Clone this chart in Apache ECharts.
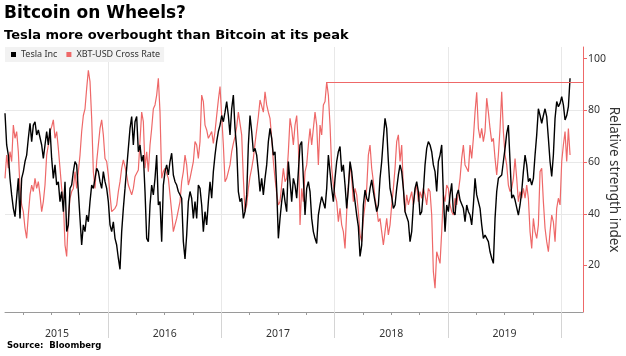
<!DOCTYPE html>
<html><head><meta charset="utf-8">
<script src="https://cdn.jsdelivr.net/npm/echarts@6/dist/echarts.min.js"></script>
<style>html,body{margin:0;padding:0;background:#fff}#c{width:626px;height:356px}</style>
</head><body><div id="c"></div>
<script>
// Sampling of the two RSI series (decimal years, ~5.4 days apart)
const startYear = 2015.091;
const stepYears = 0.01471;

const teslaRSI = [
78.9,66.6,62.7,53.7,47.3,42.1,38.9,38.9,53.7,38.2,53.7,56.3,60.2,62.7,69.2,75.0,67.9,74.3,75.6,70.5,72.4,73.0,66.6,61.4,66.6,71.8,66.6,73.0,61.4,53.7,58.9,51.1,52.4,44.7,48.6,40.8,52.4,33.1,35.7,49.8,51.1,56.3,60.2,58.9,48.6,38.2,27.9,35.7,33.1,39.5,36.9,44.7,51.1,49.8,53.7,57.6,56.3,52.4,49.8,56.3,52.4,49.8,44.7,35.7,33.1,36.9,30.5,27.9,22.8,18.5,33.1,42.1,49.8,57.6,65.3,73.0,77.6,66.6,75.6,77.6,64.0,66.6,60.2,62.7,
48.6,30.5,29.2,43.4,51.1,47.3,53.7,62.7,43.4,44.7,29.2,51.1,56.3,58.9,55.0,60.2,63.4,55.0,52.4,51.1,48.6,48.6,46.0,29.2,22.5,31.8,44.7,48.6,46.0,38.2,44.7,38.2,51.1,49.8,43.4,33.1,40.8,35.7,44.7,52.4,46.0,56.3,62.7,67.9,71.8,74.3,78.0,75.6,79.3,83.4,78.0,70.5,80.6,85.9,73.0,65.3,48.6,44.7,46.0,38.2,40.8,47.3,66.6,78.0,71.8,64.0,65.3,62.7,56.3,48.6,53.7,47.3,53.7,58.9,67.9,73.0,69.2,62.7,64.0,49.8,30.5,38.2,44.7,49.8,44.7,40.8,60.2,
60.2,44.7,53.7,51.1,46.0,56.3,66.6,67.9,53.7,39.5,49.8,52.4,48.6,38.2,33.1,30.5,28.5,39.5,43.4,46.6,46.0,42.1,49.8,62.7,62.7,49.8,44.7,53.7,60.2,64.0,66.0,56.3,58.9,51.1,42.1,49.8,60.2,56.3,49.8,44.7,39.5,35.0,23.5,27.9,43.4,49.2,46.0,44.7,49.8,53.1,48.6,44.7,40.8,43.4,53.7,60.2,69.2,76.9,73.0,60.2,49.8,46.6,42.1,43.4,49.8,55.0,58.9,56.3,49.8,40.8,40.8,36.9,29.2,33.1,43.4,49.8,52.4,48.6,39.5,40.8,48.6,58.9,65.3,67.9,66.6,64.0,58.9,
56.3,48.6,60.2,62.7,66.6,47.3,33.1,43.4,40.8,47.3,51.8,40.8,39.5,47.3,49.2,45.3,46.0,42.1,36.9,43.4,40.8,39.5,35.7,43.4,53.7,47.3,44.7,42.1,35.7,30.5,31.8,31.8,29.2,25.3,22.8,20.8,38.2,48.6,53.7,54.4,55.0,60.2,65.3,71.1,74.3,60.2,46.0,47.3,45.3,44.7,39.5,43.4,48.6,56.3,62.7,58.9,52.4,53.7,51.1,53.7,62.7,70.5,80.6,78.0,75.0,78.0,80.6,77.6,69.2,60.2,54.4,62.7,76.9,83.4,81.4,82.7,85.3,82.1,76.3,78.0,81.4,92.4
];

const btcRSI = [
53.7,62.7,57.6,64.0,60.2,74.3,69.2,71.8,64.0,49.8,43.4,40.8,34.4,30.5,39.5,47.3,51.1,48.6,53.7,49.8,52.4,47.3,40.8,44.7,51.1,62.7,66.6,71.8,73.7,76.3,69.2,71.8,65.3,57.6,49.8,44.7,27.9,23.5,38.2,46.0,48.6,49.8,56.3,49.8,56.3,62.7,71.8,78.0,80.6,88.5,95.5,91.1,76.9,56.3,49.8,60.2,66.6,73.0,76.3,70.5,61.4,60.2,55.0,47.3,40.8,40.8,42.1,43.4,48.6,52.4,57.6,60.8,58.2,55.0,51.1,50.5,47.3,49.8,54.4,54.4,56.9,57.6,79.3,75.6,
57.6,64.0,56.3,66.6,73.0,80.6,82.1,85.9,92.4,79.3,53.7,56.3,57.6,57.6,53.7,47.3,40.8,33.1,35.7,38.2,38.2,44.7,52.4,56.3,62.7,58.9,51.1,53.7,54.4,60.2,67.9,66.6,61.4,67.9,85.9,83.4,74.3,72.4,69.2,70.5,71.8,67.2,71.8,78.0,84.0,89.2,89.2,66.6,52.4,53.7,53.7,58.9,64.0,67.2,69.8,73.7,79.3,80.0,70.5,53.7,40.8,43.4,49.8,54.4,57.6,61.4,67.2,72.4,77.6,84.0,83.4,79.3,87.2,82.1,79.3,76.9,69.2,60.2,53.7,47.9,43.4,44.7,51.1,57.6,52.4,53.7,64.0,
76.9,73.0,66.6,74.3,78.0,66.6,35.7,49.8,44.7,56.3,58.9,66.6,73.0,66.6,73.0,79.3,74.3,58.9,74.3,70.5,82.1,83.4,90.9,85.9,74.3,57.6,51.1,47.3,44.7,36.9,42.1,35.7,33.1,26.6,40.8,51.1,58.9,53.7,44.7,49.8,47.3,40.8,31.8,29.2,38.2,43.4,49.8,62.7,66.6,57.6,52.4,46.0,42.1,36.9,38.2,33.1,27.9,33.1,38.2,31.8,35.7,43.4,49.8,57.6,67.9,70.5,60.2,66.6,49.8,40.8,47.3,43.4,46.0,48.6,43.4,48.6,51.1,44.7,48.6,46.0,49.8,47.3,43.4,49.8,48.6,39.5,17.6,
11.2,25.3,25.3,20.8,33.1,47.3,44.7,51.1,49.8,43.4,40.8,39.5,46.0,43.4,48.6,53.7,61.4,66.6,58.9,57.6,56.3,66.6,61.4,69.2,79.3,87.0,73.0,69.2,73.0,67.9,71.8,84.7,79.3,73.0,67.9,69.2,61.4,55.0,62.7,73.0,87.2,71.8,62.7,58.9,51.1,48.6,49.8,53.7,61.4,53.7,44.7,48.6,46.0,49.8,46.0,51.1,46.0,33.1,26.6,38.2,33.1,30.5,35.7,56.3,57.6,44.7,34.4,29.2,25.3,33.1,39.5,36.9,29.2,42.1,46.0,43.4,60.2,66.6,71.8,60.2,73.0,62.7
];

const yearTicks = [2016, 2017, 2018, 2019, 2020];
const quarterTicks = [2015.25, 2015.5, 2015.75, 2016.25, 2016.5, 2016.75, 2017.25, 2017.5, 2017.75,
                      2018.25, 2018.5, 2018.75, 2019.25, 2019.5, 2019.75];
const yearLabelPos = [2015.55, 2016.5, 2017.5, 2018.5, 2019.5];
const yTicks = [20, 40, 60, 80, 100];
const btcPeakDate = 2017.93;
const btcPeakRSI = 90.9;
const xMin = 2015.091, xMax = 2020.192;
const yMin = 2, yMax = 104.5;

const RED = '#ee6868';
const pts = arr => arr.map((v, i) => [startYear + i * stepYears, v]);

const chart = echarts.init(document.getElementById('c'), null, {renderer: 'canvas'});
chart.setOption({
  animation: false,
  backgroundColor: '#fff',
  title: [
    {text: 'Bitcoin on Wheels?', left: 4, top: 5, padding: 0,
     textStyle: {fontFamily: 'DejaVu Sans', fontWeight: 'bold', fontSize: 17, color: '#000'}},
    {text: 'Tesla more overbought than Bitcoin at its peak', left: 4, top: 29, padding: 0,
     textStyle: {fontFamily: 'DejaVu Sans', fontWeight: 'bold', fontSize: 13, color: '#000'}},
    {text: 'Source:  Bloomberg', left: 7, top: 341, padding: 0,
     textStyle: {fontFamily: 'DejaVu Sans', fontWeight: 'bold', fontSize: 8.5, color: '#000'}}
  ],
  legend: {
    left: 5, top: 47, icon: 'rect', itemWidth: 5, itemHeight: 5, itemGap: 9,
    padding: [3, 4, 3, 6], backgroundColor: '#f2f2f2',
    textStyle: {fontFamily: 'Noto Sans', fontSize: 9, color: '#333'},
    data: ['Tesla Inc', 'XBT-USD Cross Rate']
  },
  grid: {left: 5, right: 43, top: 47, bottom: 44, containLabel: false, outerBoundsMode: 'none'},
  xAxis: [{
    type: 'value', min: xMin, max: xMax, position: 'bottom',
    axisLine: {show: true, onZero: false, lineStyle: {color: '#9a9a9a', width: 1}},
    axisTick: {show: true, customValues: quarterTicks, length: 3, lineStyle: {color: '#9a9a9a'}},
    axisLabel: {show: true, customValues: yearLabelPos, formatter: v => String(Math.floor(v)),
                color: '#333', fontSize: 10.5, fontFamily: 'Noto Sans', margin: 17},
    splitLine: {show: false}
  }, {
    type: 'value', min: xMin, max: xMax, position: 'bottom',
    axisLine: {show: false, onZero: false},
    axisTick: {show: true, customValues: yearTicks, length: 26, lineStyle: {color: '#d4d4d4'}},
    axisLabel: {show: false},
    splitLine: {show: false}
  }],
  yAxis: {
    type: 'value', position: 'right', min: yMin, max: yMax,
    axisLine: {show: true, lineStyle: {color: RED, width: 1}},
    axisTick: {show: true, customValues: yTicks, length: 4, lineStyle: {color: RED}},
    axisLabel: {show: true, customValues: yTicks, color: '#333', fontSize: 10.5, fontFamily: 'Noto Sans', margin: 5},
    splitLine: {show: true, showMinLine: false, showMaxLine: false, lineStyle: {color: '#e8e8e8', width: 1}},
    name: 'Relative strength index', nameLocation: 'middle', nameRotate: -90, nameGap: 24,
    nameMoveOverlap: false,
    nameTextStyle: {fontFamily: 'Noto Sans', fontSize: 13.5, color: '#333'}
  },
  series: [{
    name: 'Tesla Inc', type: 'line', data: pts(teslaRSI), symbol: 'none', z: 3,
    lineStyle: {color: '#000', width: 1.4}, itemStyle: {color: '#000'},
    markLine: {
      silent: true, symbol: 'none', label: {show: false}, z: 6,
      lineStyle: {color: RED, width: 1, type: 'solid'},
      data: [
        [{coord: [btcPeakDate, btcPeakRSI]}, {coord: [xMax, btcPeakRSI]}],
        {xAxis: xMax}
      ]
    }
  }, {
    name: 'XBT-USD Cross Rate', type: 'line', data: pts(btcRSI), symbol: 'none', z: 2,
    lineStyle: {color: RED, width: 1.2}, itemStyle: {color: RED},
    markLine: {
      silent: true, symbol: 'none', label: {show: false}, z: 1,
      lineStyle: {color: '#e8e8e8', width: 1, type: 'solid'},
      data: yearTicks.map(y => ({xAxis: y}))
    }
  }]
});
</script></body></html>
